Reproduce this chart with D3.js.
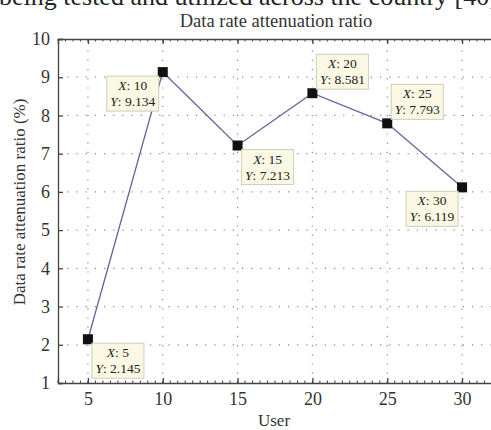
<!DOCTYPE html>
<html>
<head>
<meta charset="utf-8">
<script src="https://cdn.jsdelivr.net/npm/d3@7"></script>
<style>
  html, body { margin: 0; padding: 0; background: #fff; }
  svg text { font-family: "Liberation Serif", "DejaVu Serif", serif; fill: #333; }
</style>
</head>
<body>
<div id="chart"></div>
<script>
const users = [5, 10, 15, 20, 25, 30];
const ratios = [2.145, 9.134, 7.213, 8.581, 7.793, 6.119];
const xTicks = [5, 10, 15, 20, 25, 30];
const yTicks = [1, 2, 3, 4, 5, 6, 7, 8, 9, 10];
// which corner of the marker each data tip sits at
const tipSide = ["se", "sw", "se", "ne", "ne", "sw"];

const width = 491, height = 430;
const margin = { top: 39, right: -1, bottom: 47, left: 58 };

const svg = d3.select("#chart").append("svg")
    .attr("width", width)
    .attr("height", height);

// line of body text above the figure, cut off by the page edge as in the scan
svg.append("text")
    .attr("x", -1)
    .attr("y", 5)
    .style("font-size", "26px")
    .style("fill", "#222")
    .text("being tested and utilized across the country [40]");

const x = d3.scaleLinear().domain([3, 32]).range([margin.left, width - margin.right]);
const y = d3.scaleLinear().domain([1, 10]).range([height - margin.bottom, margin.top]);

const x0 = x.range()[0], x1 = x.range()[1];
const y0 = y.range()[0], y1 = y.range()[1];

// dotted grid
const grid = svg.append("g")
    .attr("stroke", "#8a8a8a")
    .attr("stroke-width", 1.2)
    .attr("stroke-dasharray", "1.2,8");
grid.selectAll(".vg").data(xTicks).enter().append("line")
    .attr("x1", d => x(d)).attr("x2", d => x(d))
    .attr("y1", y0).attr("y2", y1);
grid.selectAll(".hg").data(yTicks.slice(1, -1)).enter().append("line")
    .attr("x1", x0).attr("x2", x1)
    .attr("y1", d => y(d)).attr("y2", d => y(d));

// axes with inward ticks
const minorX = d3.range(3, 32.01, 0.5);
const axisColor = "#444";

const axBottom = svg.append("g")
    .attr("transform", `translate(0,${y0})`)
    .call(d3.axisBottom(x).tickValues(xTicks).tickSize(-5).tickPadding(9).tickFormat(d3.format("d")));
const axTop = svg.append("g")
    .attr("transform", `translate(0,${y1})`)
    .call(d3.axisTop(x).tickValues(xTicks).tickSize(-5).tickFormat(""));
const axLeft = svg.append("g")
    .attr("transform", `translate(${x0},0)`)
    .call(d3.axisLeft(y).tickValues(yTicks).tickSize(-5).tickPadding(8).tickFormat(d3.format("d")));

[axBottom, axTop, axLeft].forEach(g => {
    g.select(".domain").attr("stroke", axisColor).attr("stroke-width", 1.3);
    g.selectAll(".tick line").attr("stroke", axisColor).attr("stroke-width", 1.3);
    g.selectAll("text")
        .style("font-size", "18px")
        .style("font-family", "Liberation Serif, serif")
        .attr("fill", "#333");
});

// minor ticks on top and bottom
svg.append("g").selectAll("line").data(minorX).enter().append("line")
    .attr("x1", d => x(d)).attr("x2", d => x(d))
    .attr("y1", y0).attr("y2", y0 - 2.5)
    .attr("stroke", axisColor);
svg.append("g").selectAll("line").data(minorX).enter().append("line")
    .attr("x1", d => x(d)).attr("x2", d => x(d))
    .attr("y1", y1).attr("y2", y1 + 2.5)
    .attr("stroke", axisColor);

// title and axis labels
svg.append("text")
    .attr("x", 276)
    .attr("y", 27)
    .attr("text-anchor", "middle")
    .style("font-size", "18.5px")
    .text("Data rate attenuation ratio");

svg.append("text")
    .attr("x", 274)
    .attr("y", 426)
    .attr("text-anchor", "middle")
    .style("font-size", "17px")
    .text("User");

svg.append("text")
    .attr("transform", "translate(25,202) rotate(-90)")
    .attr("text-anchor", "middle")
    .style("font-size", "17px")
    .text("Data rate attenuation ratio (%)");

// line and markers
const points = users.map((u, i) => ({ u: u, r: ratios[i], side: tipSide[i] }));

svg.append("path")
    .datum(points)
    .attr("fill", "none")
    .attr("stroke", "#64649c")
    .attr("stroke-width", 1.3)
    .attr("d", d3.line().x(d => x(d.u)).y(d => y(d.r)));

svg.selectAll(".marker")
    .data(points)
    .enter()
    .append("rect")
    .attr("class", "marker")
    .attr("x", d => x(d.u) - 5)
    .attr("y", d => y(d.r) - 5)
    .attr("width", 10)
    .attr("height", 10)
    .attr("fill", "#111");

// data tips
const tipW = 52, tipH = 35, gap = 4;
const tips = svg.selectAll(".tip")
    .data(points)
    .enter()
    .append("g")
    .attr("class", "tip")
    .attr("transform", d => {
        const px = x(d.u), py = y(d.r);
        const tx = d.side[1] === "e" ? px + gap : px - gap - tipW;
        const ty = d.side[0] === "s" ? py + gap : py - gap - tipH;
        return `translate(${tx},${ty})`;
    });

tips.append("rect")
    .attr("width", tipW)
    .attr("height", tipH)
    .attr("fill", "#fbf9e4")
    .attr("stroke", "#cfcdbb")
    .attr("stroke-width", 1);

const lines = [d => ["X", ": " + d.u], d => ["Y", ": " + d.r.toFixed(3)]];
lines.forEach((fn, k) => {
    const t = tips.append("text")
        .attr("x", tipW / 2)
        .attr("y", 14 + k * 16)
        .attr("text-anchor", "middle")
        .style("font-size", "13.5px")
        .style("fill", "#222");
    t.append("tspan").style("font-style", "italic").text(d => fn(d)[0]);
    t.append("tspan").text(d => fn(d)[1]);
});
</script>
</body>
</html>
